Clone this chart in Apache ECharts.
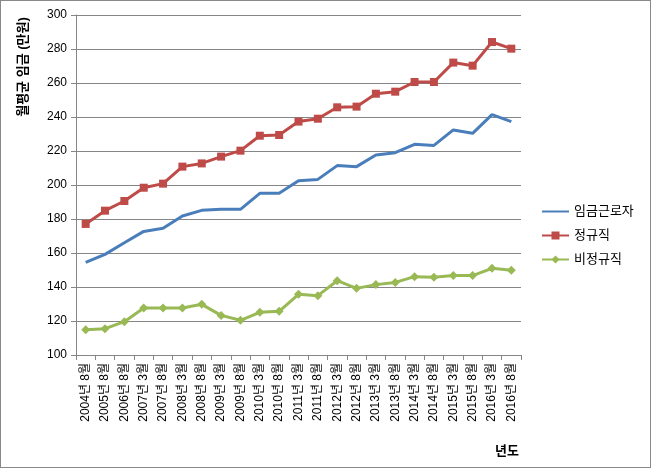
<!DOCTYPE html>
<html><head><meta charset="utf-8">
<script src="https://cdn.jsdelivr.net/npm/echarts@6/dist/echarts.min.js"></script>
<style>html,body{margin:0;padding:0;background:#fff}#c{width:651px;height:468px;box-sizing:border-box;border:1px solid #888}</style>
</head><body><div id="c"></div>
<script>
const categories = ["2004년 8월","2005년 8월","2006년 8월","2007년 3월","2007년 8월","2008년 3월","2008년 8월","2009년 3월","2009년 8월","2010년 3월","2010년 8월","2011년 3월","2011년 8월","2012년 3월","2012년 8월","2013년 3월","2013년 8월","2014년 3월","2014년 8월","2015년 3월","2015년 8월","2016년 3월","2016년 8월"];
const wageWorkers = [154.5,159.2,166,172.7,174.5,181.8,185.1,185.7,185.7,195.1,195.1,202.5,203.3,211.4,210.8,217.6,219,223.9,223.3,232.4,230.4,241.4,237.3];
const regular = [177.1,184.9,190.6,198.4,200.8,210.8,212.7,216.7,220.2,229,229.4,237.3,239,245.7,246.1,253.7,254.9,260.6,260.6,272,270.2,284.1,280.2];
const nonRegular = [114.9,115.5,119.6,127.6,127.6,127.6,129.8,123.3,120.4,125.1,125.7,135.7,134.9,143.7,139.2,141.4,142.7,146.1,145.7,146.7,146.7,151,149.8];
const seriesNames = ["임금근로자","정규직","비정규직"];
const yTitle = "월평균 임금 (만원)";
const xTitle = "년도";

const font = "'Liberation Sans','Noto Sans CJK KR',Arial,sans-serif";
const chart = echarts.init(document.getElementById('c'));
chart.setOption({
  animation:false,
  textStyle:{fontFamily:font},
  grid:{left:75,right:129,top:14,bottom:112,containLabel:false},
  legend:{orient:'vertical',left:535,top:199,itemWidth:27,itemHeight:10,itemGap:11,
    textStyle:{fontSize:13,color:'#000',fontFamily:font},
    data:[{name:seriesNames[0],itemStyle:{opacity:0}},{name:seriesNames[1]},{name:seriesNames[2]}]},
  graphic:[
    {type:'text',x:22,y:66,rotation:Math.PI/2,style:{text:yTitle,font:"bold 13px "+font,fill:'#000',textAlign:'center',textVerticalAlign:'middle'}},
    {type:'text',x:506,y:450,style:{text:xTitle,font:"bold 13px "+font,fill:'#000',textAlign:'center',textVerticalAlign:'middle'}}
  ],
  xAxis:{type:'category',data:categories,boundaryGap:true,
    axisLine:{lineStyle:{color:'#868686',width:1}},
    axisTick:{show:true,length:5,lineStyle:{color:'#868686'}},
    axisLabel:{rotate:90,fontSize:12,color:'#000',margin:8,interval:0,fontFamily:font}},
  yAxis:{type:'value',min:100,max:300,interval:20,
    axisLine:{show:true,lineStyle:{color:'#868686'}},
    axisTick:{show:true,length:5,lineStyle:{color:'#868686'}},
    axisLabel:{fontSize:12,color:'#000',margin:9,fontFamily:font},
    splitLine:{lineStyle:{color:'#868686',width:1}}},
  series:[
    {name:seriesNames[0],type:'line',data:wageWorkers,symbol:'none',lineStyle:{width:3,color:'#4A7EBB'},itemStyle:{color:'#4A7EBB'}},
    {name:seriesNames[1],type:'line',data:regular,symbol:'rect',symbolSize:8,showSymbol:true,lineStyle:{width:3,color:'#BE4B48'},itemStyle:{color:'#BE4B48'}},
    {name:seriesNames[2],type:'line',data:nonRegular,symbol:'diamond',symbolSize:9,lineStyle:{width:3,color:'#98B954'},itemStyle:{color:'#98B954'}}
  ]
});
</script></body></html>
